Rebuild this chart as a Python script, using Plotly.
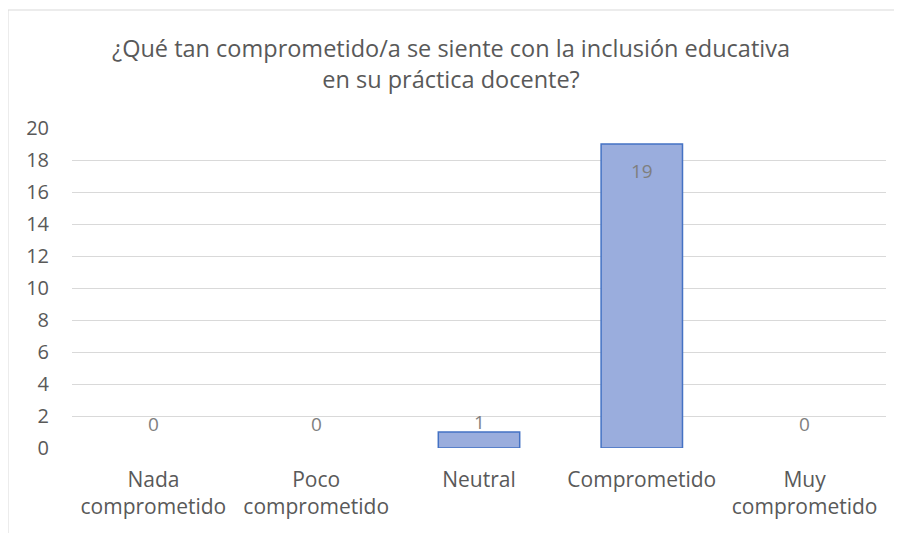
import plotly.graph_objects as go

categories = ["Nada<br>comprometido", "Poco<br>comprometido", "Neutral", "Comprometido", "Muy<br>comprometido"]
values = [0, 0, 1, 19, 0]
y_ticks = list(range(0, 21, 2))
title_text = "¿Qué tan comprometido/a se siente con la inclusión educativa<br>en su práctica docente?"

FONT = "Open Sans"
GRAY = "#595959"
OFF = 8  # browser body margin
W, H = 902 - OFF, 533 - OFF
PL, PR, PT, PB = 72 - OFF, 886 - OFF, 128 - OFF, 448 - OFF  # plot area in figure px

fig = go.Figure()
fig.add_trace(go.Bar(
    x=categories, y=values,
    marker=dict(color="#9aaddd",
                line=dict(color="#4472c4", width=[0 if v == 0 else 1.5 for v in values])),
    width=0.5, hoverinfo="skip",
))

# data labels (Excel "inside end" style)
for c, v in zip(categories, values):
    if v >= 3:
        fig.add_annotation(x=c, y=v, yanchor="top", yshift=-12, text=str(v), showarrow=False,
                           font=dict(family=FONT, size=19, color="#7f7f7f"))
    else:
        fig.add_annotation(x=c, y=max(v + 0.6, 1.5), yanchor="middle", text=str(v), showarrow=False,
                           font=dict(family=FONT, size=19, color="#7f7f7f"))

# chart border
fig.add_shape(type="rect", xref="paper", yref="paper",
              x0=(0 - PL) / (PR - PL), x1=1.2, y0=-0.4, y1=(PB - 2) / (PB - PT),
              line=dict(color="#d9d9d9", width=1), fillcolor="rgba(0,0,0,0)", layer="below")

fig.update_layout(
    width=W, height=H,
    margin=dict(l=PL, r=W - PR, t=PT, b=H - PB),
    paper_bgcolor="white", plot_bgcolor="white",
    showlegend=False,
    title=dict(text=title_text, x=(451 - OFF) / W, xref="container", xanchor="center",
               y=1 - (57 - OFF) / H, yanchor="middle",
               font=dict(family=FONT, size=23.5, color=GRAY)),
    xaxis=dict(tickfont=dict(family=FONT, size=21, color=GRAY), showgrid=False, showline=False,
               ticks="", fixedrange=True, ticklabelstandoff=17),
    yaxis=dict(range=[0, 20], tickvals=y_ticks, showgrid=True, gridcolor="#d9d9d9", gridwidth=1,
               zeroline=False, showline=False, ticks="", ticklabelstandoff=22,
               tickfont=dict(family=FONT, size=20, color=GRAY)),
    bargap=0.5,
)
fig.write_html("out.html")
